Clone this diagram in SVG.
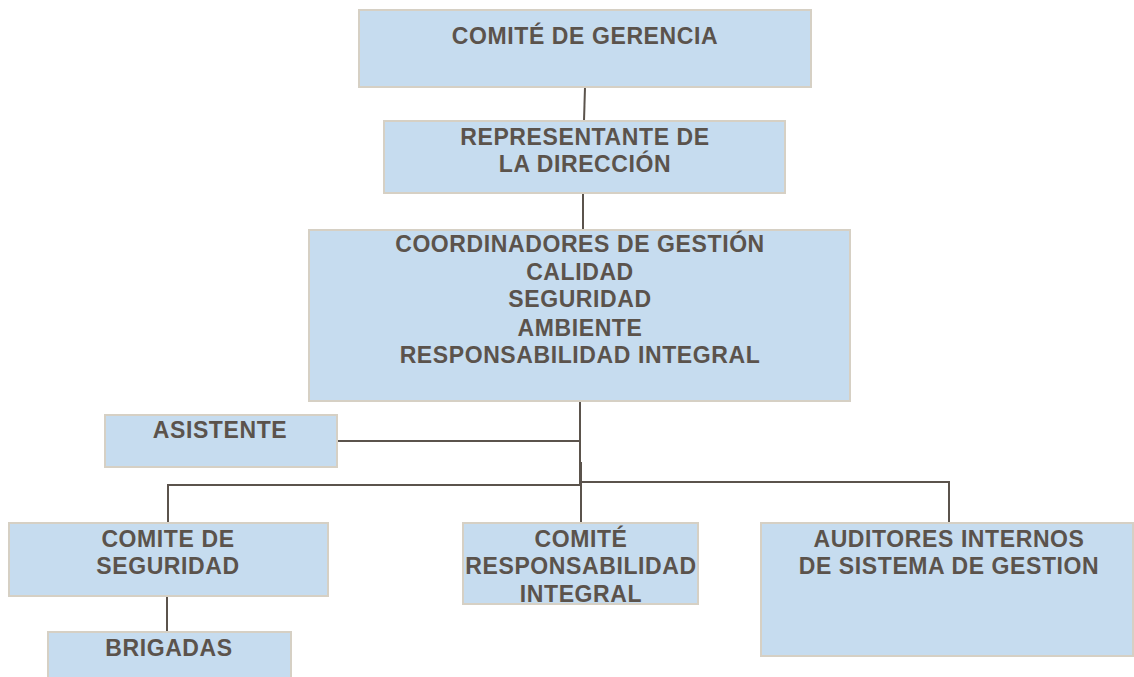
<svg xmlns="http://www.w3.org/2000/svg" width="1134" height="677" viewBox="0 0 1134 677">
<style>
.box{fill:#c6dcef;stroke:#d6d0c4;stroke-width:2}
.t{font-family:"Liberation Sans",Arial,sans-serif;font-weight:bold;font-size:23px;letter-spacing:0.6px;fill:#5b534c;text-anchor:middle}
.c{stroke:#5b534c;stroke-width:2;fill:none}
</style>
<rect width="1134" height="677" fill="#ffffff"/>
<g id="connectors">
<line class="c" x1="585" y1="87" x2="584" y2="121"/>
<line class="c" x1="583" y1="193" x2="583" y2="230"/>
<line class="c" x1="580" y1="401" x2="580" y2="485"/>
<line class="c" x1="337" y1="441" x2="580" y2="441"/>
<polyline class="c" points="168,523 168,485 580,485"/>
<polyline class="c" points="581,523 581,462"/>
<polyline class="c" points="581,482 949,482 949,523"/>
<line class="c" x1="167" y1="596" x2="167" y2="632"/>
</g>
<g id="comite-gerencia">
<rect class="box" x="359" y="10" width="452" height="77"/>
<text class="t" x="585" y="44">COMITÉ DE GERENCIA</text>
</g>
<g id="representante">
<rect class="box" x="384" y="121" width="401" height="72"/>
<text class="t" x="585" y="145">REPRESENTANTE DE</text>
<text class="t" x="585" y="172">LA DIRECCIÓN</text>
</g>
<g id="coordinadores">
<rect class="box" x="309" y="230" width="541" height="171"/>
<text class="t" x="580" y="252">COORDINADORES DE GESTIÓN</text>
<text class="t" x="580" y="280">CALIDAD</text>
<text class="t" x="580" y="307">SEGURIDAD</text>
<text class="t" x="580" y="336">AMBIENTE</text>
<text class="t" x="580" y="363">RESPONSABILIDAD INTEGRAL</text>
</g>
<g id="asistente">
<rect class="box" x="105" y="415" width="232" height="52"/>
<text class="t" x="220" y="438">ASISTENTE</text>
</g>
<g id="comite-seguridad">
<rect class="box" x="9" y="523" width="319" height="73"/>
<text class="t" x="168" y="547">COMITE DE</text>
<text class="t" x="168" y="574">SEGURIDAD</text>
</g>
<g id="brigadas">
<rect class="box" x="48" y="632" width="243" height="50"/>
<text class="t" x="169" y="656">BRIGADAS</text>
</g>
<g id="comite-ri">
<rect class="box" x="463" y="523" width="235" height="81"/>
<text class="t" x="581" y="547">COMITÉ</text>
<text class="t" x="581" y="574">RESPONSABILIDAD</text>
<text class="t" x="581" y="602">INTEGRAL</text>
</g>
<g id="auditores">
<rect class="box" x="761" y="523" width="372" height="133"/>
<text class="t" x="949" y="547">AUDITORES INTERNOS</text>
<text class="t" x="949" y="574">DE SISTEMA DE GESTION</text>
</g>
</svg>
